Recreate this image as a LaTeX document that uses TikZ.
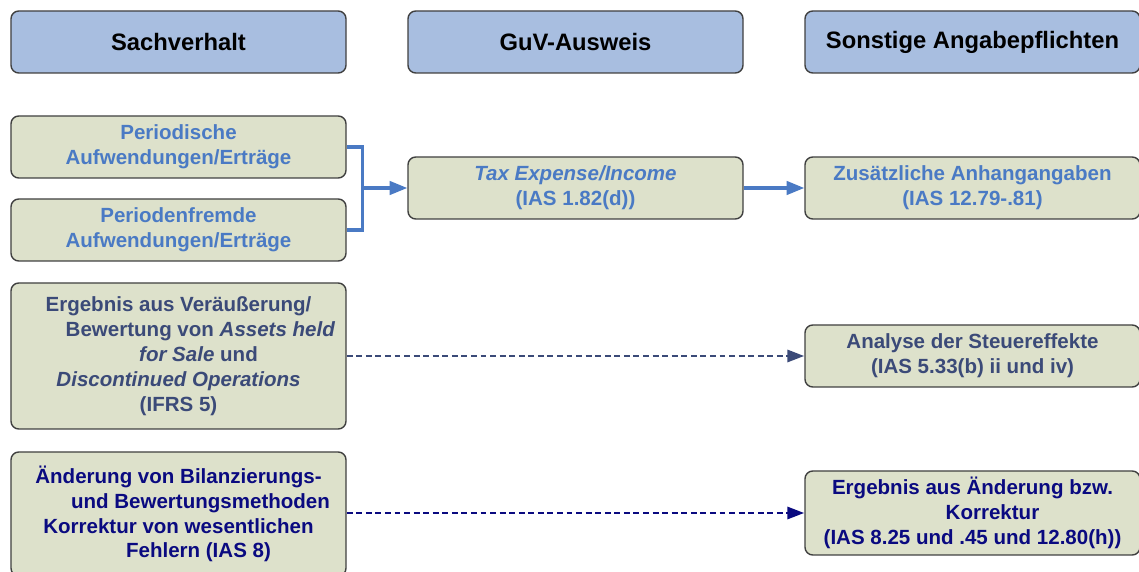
\documentclass[tikz,border=0pt]{standalone}
\usepackage{fontspec}
\setmainfont{Liberation Sans}
\usepackage{tikz}
\usetikzlibrary{positioning, arrows.meta}

\definecolor{headfill}{RGB}{168,190,224}
\definecolor{boxfill}{RGB}{221,225,203}
\definecolor{boxline}{RGB}{64,64,64}
\definecolor{taxblue}{RGB}{74,122,196}
\definecolor{slateblue}{RGB}{59,74,120}
\definecolor{navyblue}{RGB}{10,10,128}

\begin{document}
\begin{tikzpicture}[node distance=1cm, on grid, thick]
      \tikzstyle{every node}=[font=\fontsize{14.6}{17.7}\selectfont\bfseries]
      \tikzstyle{head}=[draw=boxline, line width=1pt, rounded corners=5.5pt, fill=headfill, minimum width=8.375cm, minimum height=1.55cm, font=\fontsize{16.9}{20}\selectfont\bfseries]
      \tikzstyle{fact}=[draw=boxline, line width=1pt, rounded corners=5.5pt, fill=boxfill, minimum width=8.375cm, minimum height=1.55cm, align=center, inner sep=2pt]
      \tikzstyle{blueline}=[taxblue, line width=2.2pt, -{Triangle[length=12.5pt, width=9.5pt]}]
      \tikzstyle{dashline}=[line width=2.1pt, dash pattern=on 4.2pt off 2.6pt, -{Triangle[length=12pt, width=8.5pt]}]

      \clip (0,0) rectangle (28.475,-14.3);

      % Nodes
      \node[head]   (h1) at (4.4625,-1.05) {Sachverhalt};
      \node[head]   (h2) [right=9.925cm of h1] {GuV-Ausweis};
      \node[head]   (h3) [right=9.925cm of h2] {Sonstige Angabepflichten};

      \node[fact, text=taxblue]   (per) [below=2.625cm of h1] {Periodische\\Aufwendungen/Erträge};
      \node[fact, text=taxblue]   (fremd) [below=2.075cm of per] {Periodenfremde\\Aufwendungen/Erträge};
      \node[fact, text=slateblue, minimum height=3.65cm] (ifrs) [below=3.15cm of fremd]
            {Ergebnis aus Veräußerung/\\\hspace*{1.1cm}Bewertung von \textit{Assets held}\\\hspace*{1cm}\textit{for Sale} und\\\textit{Discontinued Operations}\\(IFRS 5)};
      \node[fact, text=navyblue, minimum height=3.1cm] (ias8) [below=3.95cm of ifrs]
            {Änderung von Bilanzierungs-\\\hspace*{1.1cm}und Bewertungsmethoden\\Korrektur von wesentlichen\\\hspace*{1cm}Fehlern (IAS 8)};

      \node[fact, text=taxblue]   (tax) [below=3.65cm of h2] {\textit{Tax Expense/Income}\\(IAS 1.82(d))};
      \node[fact, text=taxblue]   (anh) [right=9.925cm of tax] {Zusätzliche Anhangangaben\\(IAS 12.79-.81)};
      \node[fact, text=slateblue] (steuer) [below=4.2cm of anh] {Analyse der Steuereffekte\\(IAS 5.33(b) ii und iv)};
      \node[fact, text=navyblue, minimum height=2.1cm] (korr) [below=3.925cm of steuer]
            {Ergebnis aus Änderung bzw.\\\hspace*{1cm}Korrektur\\(IAS 8.25 und .45 und 12.80(h))};

      \coordinate[right=0.4cm of per.east] (j);

      % Edges
      \draw[taxblue, line width=2.2pt] (per.east) -- (j) |- (fremd.east);
      \draw[blueline] (j |- tax) -- (tax);
      \draw[blueline] (tax) -- (anh);
      \draw[dashline, slateblue] (ifrs) -- (steuer);
      \draw[dashline, navyblue] (ias8.east |- korr) -- (korr);
    \end{tikzpicture}
\end{document}
